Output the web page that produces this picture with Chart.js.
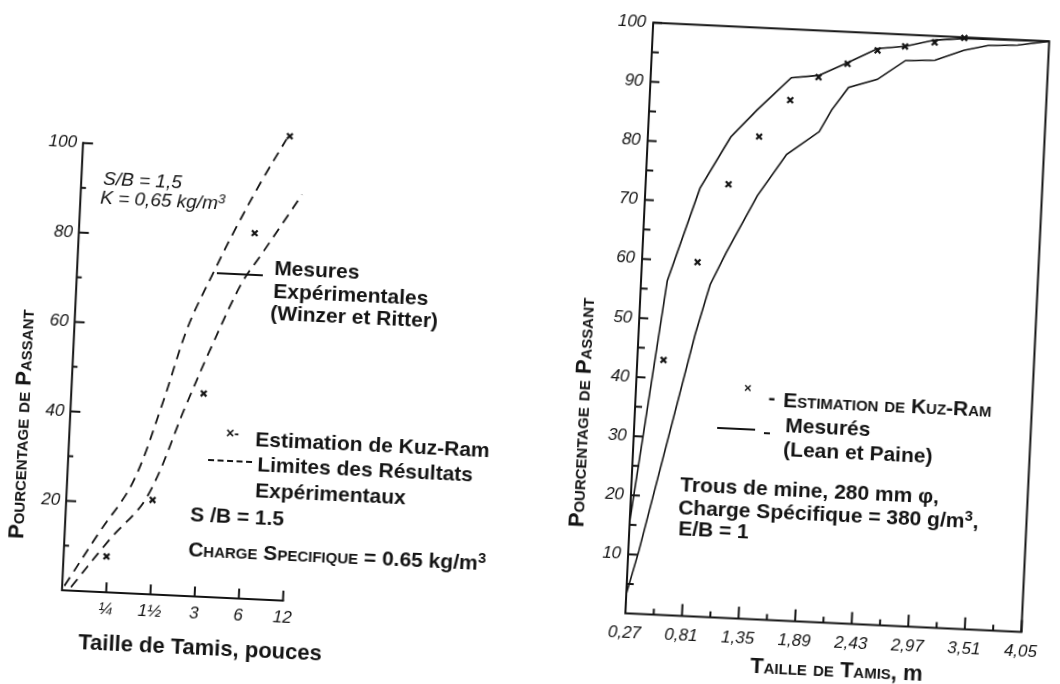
<!DOCTYPE html>
<html lang="fr">
<head>
<meta charset="utf-8">
<title>Kuz-Ram : Pourcentage de passant</title>
<script src="https://cdn.jsdelivr.net/npm/chart.js@4.4.0/dist/chart.umd.min.js"></script>
<style>
  html, body { margin: 0; padding: 0; background: #fff; overflow: hidden; width: 1060px; height: 684px; }
  /* the scanned figure is tilted a little clockwise, so the whole sheet is too */
  #page { position: absolute; left: 0; top: 0; width: 1060px; height: 684px;
          transform: rotate(2.7deg); transform-origin: 530px 342px; }
  canvas { position: absolute; top: 0; }
  .t, .vt { position: absolute; white-space: nowrap; line-height: 1; color: #141414;
            font-family: "Liberation Sans", Arial, sans-serif; font-size: 21px; }
  .b { font-weight: bold; }
  .it { font-style: italic; font-size: 19px; }
  .sc { font-variant: small-caps; }
  .vt { font-size: 22px; transform: translate(-50%, -50%) rotate(-90deg); }
  .sup { position: relative; top: -0.45em; font-size: 70%; }
  .ln { position: absolute; height: 2px; background: #141414; }
  .ln.dash { background: none; border-top: 2px dashed #141414; height: 0; }
</style>
</head>
<body>
<div id="page">
  <canvas id="leftChart" width="560" height="684" style="left:0"></canvas>
  <canvas id="rightChart" width="500" height="684" style="left:560px"></canvas>

  <!-- left panel notes (data-x / data-y = left end of baseline on the scan) -->
  <div class="t it" data-x="103" data-y="185">S/B = 1,5</div>
  <div class="t it" data-x="100" data-y="204">K = 0,65 kg/m<span class="sup">3</span></div>
  <div class="t b" data-x="274" data-y="275">Mesures</div>
  <div class="t b" data-x="273" data-y="298">Expérimentales</div>
  <div class="t b" data-x="270" data-y="320">(Winzer et Ritter)</div>
  <div class="ln" data-x="217" data-y="273" style="width:46px"></div>
  <div class="t b" data-x="226" data-y="438" style="font-size:14px">×-</div>
  <div class="t b" data-x="255" data-y="446">Estimation de Kuz-Ram</div>
  <div class="ln dash" data-x="208" data-y="460" style="width:44px"></div>
  <div class="t b" data-x="257" data-y="471">Limites des Résultats</div>
  <div class="t b" data-x="255" data-y="497">Expérimentaux</div>
  <div class="t b" data-x="190" data-y="521">S /B = 1.5</div>
  <div class="t b" data-x="188" data-y="556"><span class="sc">Charge Specifique</span> = 0.65 kg/m<span class="sup">3</span></div>
  <div class="vt b sc" data-x="22" data-y="424">Pourcentage de Passant</div>
  <div class="t b" data-x="78" data-y="650" style="font-size:22px">Taille de Tamis, pouces</div>

  <!-- right panel notes -->
  <div class="t b" data-x="744" data-y="392" style="font-size:13px">×</div>
  <div class="t b" data-x="768" data-y="404">-</div>
  <div class="t b sc" data-x="783" data-y="407">Estimation de Kuz-Ram</div>
  <div class="ln" data-x="717" data-y="428" style="width:38px"></div>
  <div class="ln" data-x="764" data-y="433" style="width:6px"></div>
  <div class="t b" data-x="785" data-y="432">Mesurés</div>
  <div class="t b" data-x="783" data-y="456">(Lean et Paine)</div>
  <div class="t b" data-x="680" data-y="491">Trous de mine, 280 mm φ,</div>
  <div class="t b" data-x="678" data-y="514">Charge Spécifique = 380 g/m<span class="sup">3</span>,</div>
  <div class="t b" data-x="678" data-y="535">E/B = 1</div>
  <div class="vt b sc" data-x="582" data-y="413">Pourcentage de Passant</div>
  <div class="t b sc" data-x="750" data-y="673" style="font-size:22px">Taille de Tamis, <span style="font-variant:normal">m</span></div>
</div>

<script>
// ---------- left panel: sieve size (pouces), Winzer et Ritter band + Kuz-Ram ----------
// sizes are read on an evenly spaced axis: 1 = ¼", 2 = 1½", 3 = 3", 4 = 6", 5 = 12"
const leftSizeTicks = [1, 2, 3, 4, 5];
const leftSizeLabels = ['¼', '1½', '3', '6', '12'];
const leftPctTicks = [10, 20, 30, 40, 50, 60, 70, 80, 90, 100];
const leftPctLabels = ['', '20', '', '40', '', '60', '', '80', '', '100'];

const leftUpperSize = [0.05, 0.78, 1.48, 2.05, 2.56, 3.1, 3.51, 4.07, 4.59];
const leftUpperPct = [1, 13.3, 24.7, 42, 60, 72.9, 82, 93.4, 103];
const leftLowerSize = [0.2, 1.02, 1.82, 2.6, 3.1, 3.72, 4.15, 5.0];
const leftLowerPct = [0.8, 11.8, 21.7, 42.5, 55.5, 70.2, 77.1, 90.8];
const leftKuzSize = [0.97, 1.95, 2.99, 3.97, 4.66];
const leftKuzPct = [8.0, 21.1, 45.4, 81.7, 103.7];

// ---------- right panel: sieve size (m), Lean et Paine + Kuz-Ram ----------
const rightSizeTicks = [0.27, 0.54, 0.81, 1.08, 1.35, 1.62, 1.89, 2.16, 2.43, 2.70, 2.97, 3.24, 3.51, 3.78, 4.05];
const rightSizeLabels = ['0,27', '', '0,81', '', '1,35', '', '1,89', '', '2,43', '', '2,97', '', '3,51', '', '4,05'];
const rightPctTicks = [5, 10, 15, 20, 25, 30, 35, 40, 45, 50, 55, 60, 65, 70, 75, 80, 85, 90, 95, 100];
const rightPctLabels = ['', '10', '', '20', '', '30', '', '40', '', '50', '', '60', '', '70', '', '80', '', '90', '', '100'];

const rightUpperSize = [0.27, 0.52, 0.79, 1.06, 1.30, 1.61, 1.87, 2.14, 2.42, 2.68, 2.96, 3.24, 4.05];
const rightUpperPct = [15.5, 56.5, 72.4, 81.3, 86.1, 91.8, 92.4, 94.8, 97.4, 98.0, 99.3, 99.8, 100];
const rightLowerSize = [0.27, 0.37, 0.81, 0.93, 1.07, 1.34, 1.60, 1.90, 2.01, 2.16, 2.43, 2.69, 2.97, 3.24, 3.47, 3.75, 4.05];
const rightLowerPct = [3.3, 10.6, 47.7, 56.2, 61.8, 71.6, 78.8, 82.9, 86.7, 90.6, 92.2, 95.6, 95.9, 97.8, 98.8, 99.1, 100];
const rightKuzSize = [0.52, 0.80, 1.06, 1.33, 1.61, 1.87, 2.14, 2.42, 2.68, 2.96, 3.24];
const rightKuzPct = [43.1, 59.9, 73.3, 81.6, 88.0, 92.1, 94.6, 97.1, 98.0, 98.9, 99.9];

const INK = '#141414';
const FONT = '"Liberation Sans", Arial, sans-serif';

// scan coordinates -> coordinates inside the rotated #page
const ANG = 2.7 * Math.PI / 180, CX = 530, CY = 342;
function unskew(x, y) {
    const dx = x - CX, dy = y - CY;
    return {
        x: CX + dx * Math.cos(ANG) + dy * Math.sin(ANG),
        y: CY - dx * Math.sin(ANG) + dy * Math.cos(ANG)
    };
}

function points(xs, ys) {
    return xs.map((x, i) => ({ x: x, y: ys[i] }));
}

// axis lines stop at 100 % and tick marks point into the plot, as on the original
const inwardTicks = {
    id: 'inwardTicks',
    afterDraw(chart, args, opts) {
        const ctx = chart.ctx;
        const xs = chart.scales.x, ys = chart.scales.y;
        const y0 = ys.getPixelForValue(0), y100 = ys.getPixelForValue(100);
        ctx.save();
        ctx.strokeStyle = INK;
        ctx.lineWidth = 2;
        ctx.lineCap = 'square';
        ctx.beginPath();
        ctx.moveTo(ys.right, y100);
        ctx.lineTo(ys.right, y0);
        ctx.lineTo(xs.right, y0);
        ctx.stroke();
        ctx.lineCap = 'butt';
        xs.ticks.forEach(t => {
            const px = xs.getPixelForValue(t.value);
            const len = t.label ? opts.xMajor : opts.xMinor;
            ctx.beginPath();
            ctx.moveTo(px, y0);
            ctx.lineTo(px, y0 - len);
            ctx.stroke();
        });
        ys.ticks.forEach(t => {
            const py = ys.getPixelForValue(t.value);
            const len = t.label ? opts.yMajor : opts.yMinor;
            ctx.beginPath();
            ctx.moveTo(ys.right, py);
            ctx.lineTo(ys.right + len, py);
            ctx.stroke();
        });
        ctx.restore();
    }
};

// closes the right panel with a top and a right edge
const frame = {
    id: 'frame',
    afterDraw(chart) {
        const { left, top, right, bottom } = chart.chartArea;
        const ctx = chart.ctx;
        ctx.save();
        ctx.strokeStyle = INK;
        ctx.lineWidth = 2;
        ctx.beginPath();
        ctx.moveTo(left, top);
        ctx.lineTo(right, top);
        ctx.lineTo(right, bottom);
        ctx.stroke();
        ctx.restore();
    }
};

function buildChart(canvasId, area, spec) {
    const canvas = document.getElementById(canvasId);
    const W = canvas.width, H = canvas.height;
    const xAxisH = 44;
    // room above 100 % so that marks drawn past the top of the axis stay visible
    const perPct = (area.bottom - area.top) / 100;
    const top = area.top - (spec.yMax - 100) * perPct;
    const tickFont = { family: FONT, size: 17, style: 'italic' };
    return new Chart(canvas, {
        type: 'line',
        data: { datasets: spec.datasets },
        options: {
            responsive: false,
            animation: false,
            events: [],
            layout: {
                padding: { left: 0, top: top, right: W - area.right, bottom: H - area.bottom - xAxisH }
            },
            plugins: {
                legend: { display: false },
                tooltip: { enabled: false },
                inwardTicks: spec.tickLen
            },
            scales: {
                x: {
                    type: 'linear',
                    min: spec.xMin,
                    max: spec.xMax,
                    afterFit: s => { s.height = xAxisH; },
                    afterBuildTicks: s => { s.ticks = spec.xTicks.map(v => ({ value: v })); },
                    ticks: {
                        autoSkip: false, maxRotation: 0, padding: spec.xPad,
                        color: INK, font: tickFont,
                        callback: (v, i) => spec.xLabels[i]
                    },
                    grid: { display: false, drawTicks: false },
                    border: { display: false }
                },
                y: {
                    type: 'linear',
                    min: 0,
                    max: spec.yMax,
                    afterFit: s => { s.width = area.left; },
                    afterBuildTicks: s => { s.ticks = spec.yTicks.map(v => ({ value: v })); },
                    ticks: {
                        autoSkip: false, padding: spec.yPad,
                        color: INK, font: tickFont,
                        callback: (v, i) => spec.yLabels[i]
                    },
                    grid: { display: false, drawTicks: false },
                    border: { display: false }
                }
            }
        },
        plugins: spec.plugins
    });
}

function dashedLine(xs, ys) {
    return {
        data: points(xs, ys), borderColor: INK, borderWidth: 1.8, borderDash: [10, 7],
        pointRadius: 0, tension: 0.35, fill: false, clip: false
    };
}

function solidLine(xs, ys) {
    return {
        data: points(xs, ys), borderColor: INK, borderWidth: 1.6,
        pointRadius: 0, tension: 0, fill: false, clip: false
    };
}

function crosses(xs, ys) {
    return {
        data: points(xs, ys), showLine: false, pointStyle: 'crossRot',
        pointRadius: 4, borderColor: INK, borderWidth: 2.2, clip: false
    };
}

// plot areas (0..100 %), taken from the axis corners on the scan
const lo = unskew(63, 591), lx = unskew(283, 600), ly = unskew(82, 143);
const leftArea = { left: (lo.x + ly.x) / 2, right: lx.x, top: ly.y, bottom: (lo.y + lx.y) / 2 };

const ro = unskew(624, 613), rx = unskew(1035, 633), ry = unskew(655, 14), rc = unskew(1058, 33);
const RIGHT_OFF = 560;
const rightArea = {
    left: (ro.x + ry.x) / 2 - RIGHT_OFF,
    right: (rx.x + rc.x) / 2 - RIGHT_OFF,
    top: (ry.y + rc.y) / 2,
    bottom: (ro.y + rx.y) / 2
};

buildChart('leftChart', leftArea, {
    xMin: 0, xMax: 5, yMax: 106,
    xTicks: leftSizeTicks, xLabels: leftSizeLabels,
    yTicks: leftPctTicks, yLabels: leftPctLabels,
    xPad: 7, yPad: 6,
    tickLen: { xMajor: 10, xMinor: 6, yMajor: 10, yMinor: 5 },
    datasets: [
        dashedLine(leftUpperSize, leftUpperPct),
        dashedLine(leftLowerSize, leftLowerPct),
        crosses(leftKuzSize, leftKuzPct)
    ],
    plugins: [inwardTicks]
});

buildChart('rightChart', rightArea, {
    xMin: 0.27, xMax: 4.05, yMax: 100,
    xTicks: rightSizeTicks, xLabels: rightSizeLabels,
    yTicks: rightPctTicks, yLabels: rightPctLabels,
    xPad: 9, yPad: 7,
    tickLen: { xMajor: 12, xMinor: 6, yMajor: 9, yMinor: 7 },
    datasets: [
        solidLine(rightUpperSize, rightUpperPct),
        solidLine(rightLowerSize, rightLowerPct),
        crosses(rightKuzSize, rightKuzPct)
    ],
    plugins: [inwardTicks, frame]
});

// place the notes where they sit on the scan
document.querySelectorAll('.t').forEach(el => {
    const fs = parseFloat(getComputedStyle(el).fontSize);
    const p = unskew(+el.dataset.x, +el.dataset.y);
    el.style.left = p.x + 'px';
    el.style.top = (p.y - 0.85 * fs) + 'px';
});
document.querySelectorAll('.vt').forEach(el => {
    const p = unskew(+el.dataset.x, +el.dataset.y);
    el.style.left = p.x + 'px';
    el.style.top = p.y + 'px';
});
document.querySelectorAll('.ln').forEach(el => {
    const p = unskew(+el.dataset.x, +el.dataset.y);
    el.style.left = p.x + 'px';
    el.style.top = (p.y - 1) + 'px';
});
</script>
</body>
</html>
